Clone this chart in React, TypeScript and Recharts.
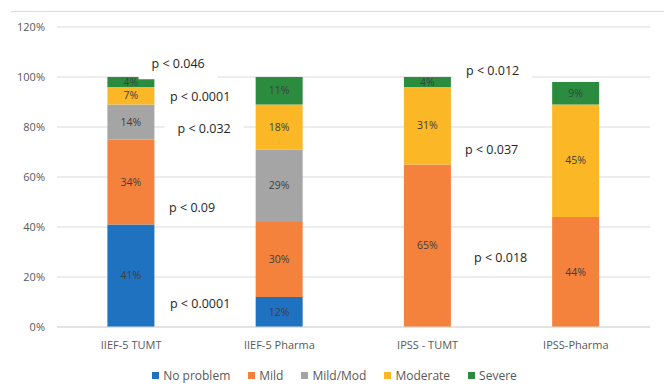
import React from "react";
import {
  Bar,
  BarChart,
  CartesianGrid,
  LabelList,
  Legend,
  ReferenceDot,
  XAxis,
  YAxis,
} from "recharts";

const categories = ["IIEF-5 TUMT", "IIEF-5 Pharma", "IPSS - TUMT", "IPSS-Pharma"];

const noProblem = [41, 12, 0, 0];
const mild = [34, 30, 65, 44];
const mildMod = [14, 29, 0, 0];
const moderate = [7, 18, 31, 45];
const severe = [4, 11, 4, 9];

const yTicks = [0, 20, 40, 60, 80, 100, 120];

const series = [
  { key: "noProblem", name: "No problem", color: "#1f72bf" },
  { key: "mild", name: "Mild", color: "#f4823c" },
  { key: "mildMod", name: "Mild/Mod", color: "#a5a5a5" },
  { key: "moderate", name: "Moderate", color: "#fbb726" },
  { key: "severe", name: "Severe", color: "#2b8c3f" },
];

// p-value notes: anchored to a category and a y value, shifted right of the bar
const notes = [
  { text: "p < 0.046", cat: "IIEF-5 TUMT", y: 105.5, dx: 47 },
  { text: "p < 0.0001", cat: "IIEF-5 TUMT", y: 92.4, dx: 69 },
  { text: "p < 0.032", cat: "IIEF-5 TUMT", y: 79.6, dx: 73 },
  { text: "p < 0.09", cat: "IIEF-5 TUMT", y: 48, dx: 61 },
  { text: "p < 0.0001", cat: "IIEF-5 TUMT", y: 9.6, dx: 69 },
  { text: "p < 0.012", cat: "IPSS - TUMT", y: 102.8, dx: 65 },
  { text: "p < 0.037", cat: "IPSS - TUMT", y: 71.2, dx: 64 },
  { text: "p < 0.018", cat: "IPSS - TUMT", y: 28, dx: 73 },
];

const data = categories.map((name, i) => ({
  name,
  noProblem: noProblem[i],
  mild: mild[i],
  mildMod: mildMod[i],
  moderate: moderate[i],
  severe: severe[i],
}));

const FONT = "'Open Sans', sans-serif";

const pctLabel = (v: any) => (Number(v) > 0 ? `${v}%` : "");

function NoteBox({ cx, cy, dx, text }: { cx: number; cy: number; dx: number; text: string }) {
  const w = text.length * 6.8 + 18;
  const h = 32;
  const x = cx + dx;
  return (
    <g>
      <rect x={x - w / 2} y={cy - h / 2} width={w} height={h} fill="#ffffff" />
      <text
        x={x}
        y={cy}
        textAnchor="middle"
        dominantBaseline="central"
        fontSize={12.5}
        fontFamily={FONT}
        fill="#262626"
      >
        {text}
      </text>
    </g>
  );
}

function LegendBox() {
  return (
    <div
      style={{
        display: "flex",
        justifyContent: "center",
        alignItems: "center",
        height: 30,
        paddingTop: 6,
        boxSizing: "border-box",
        gap: 18,
        fontSize: 12,
        color: "#595959",
        paddingLeft: 12,
      }}
    >
      {series.map((s) => (
        <div key={s.key} style={{ display: "flex", alignItems: "center", gap: 4 }}>
          <span style={{ width: 7, height: 7, background: s.color, display: "inline-block" }} />
          <span>{s.name}</span>
        </div>
      ))}
    </div>
  );
}

export default function App() {
  return (
    <div style={{ position: "absolute", left: 0, top: 0, width: 664, height: 390, background: "#fff" }}>
      <div
        style={{ position: "absolute", left: 11, right: 0, top: 11, height: 0, borderTop: "1px solid #d9d9d9" }}
      />
      <BarChart
        width={664}
        height={390}
        data={data}
        margin={{ top: 27, right: 14, bottom: 3, left: 7 }}
        barCategoryGap="34%"
        style={{ fontFamily: FONT }}
      >
        <CartesianGrid vertical={false} stroke="#d9d9d9" />
        <XAxis
          dataKey="name"
          tickLine={false}
          axisLine={{ stroke: "#d9d9d9" }}
          tickMargin={8}
          tick={{ fill: "#595959", fontSize: 11 }}
        />
        <YAxis
          width={50}
          domain={[0, 120]}
          ticks={yTicks}
          tickFormatter={(v) => `${v}%`}
          tickLine={false}
          axisLine={false}
          tickMargin={6}
          tick={{ fill: "#595959", fontSize: 11 }}
        />
        <Legend verticalAlign="bottom" height={30} content={() => <LegendBox />} />
        {series.map((s) => (
          <Bar key={s.key} dataKey={s.key} name={s.name} stackId="a" fill={s.color} isAnimationActive={false}>
            <LabelList dataKey={s.key} position="center" formatter={pctLabel} fill="#404040" fontSize={10.5} />
          </Bar>
        ))}
        {notes.map((n, i) => (
          <ReferenceDot
            key={i}
            x={n.cat}
            y={n.y}
            r={0}
            ifOverflow="visible"
            shape={(p: any) => <NoteBox cx={p.cx} cy={p.cy} dx={n.dx} text={n.text} />}
          />
        ))}
      </BarChart>
    </div>
  );
}
